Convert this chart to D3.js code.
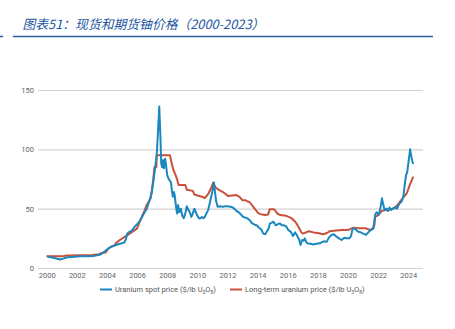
<!DOCTYPE html>
<html>
<head>
<meta charset="utf-8">
<script src="https://cdn.jsdelivr.net/npm/d3@7"></script>
<style>
	body { margin: 0; background: white; }
	svg { display: block; font-family: Roboto, "Noto Sans", sans-serif; }
</style>
</head>
<body>
<svg id="chart" width="455" height="329"></svg>
<script>
// prix spot (hebdo lissé) : [année décimale, $/lb]
let spot = [
	[2000.0, 10], [2000.2, 9.3], [2000.45, 8.6], [2000.7, 7.8], [2000.9, 7.2], [2001.1, 7.9], [2001.3, 8.8],
	[2001.6, 9.2], [2001.9, 9.5], [2002.2, 9.9], [2002.5, 10], [2002.8, 10], [2003.1, 10.2], [2003.4, 10.9],
	[2003.6, 11.6], [2003.9, 14.5], [2004.1, 16.5], [2004.3, 18], [2004.5, 19], [2004.75, 20], [2004.98, 20.8],
	[2005.15, 21.5], [2005.25, 24], [2005.35, 29], [2005.5, 30.5], [2005.65, 31.5], [2005.85, 35], [2006.0, 37],
	[2006.2, 40], [2006.45, 46], [2006.64, 50], [2006.8, 56], [2006.97, 63], [2007.1, 75], [2007.2, 85],
	[2007.3, 95], [2007.38, 113], [2007.47, 136], [2007.55, 110], [2007.6, 88], [2007.66, 85], [2007.72, 91],
	[2007.78, 84], [2007.86, 92], [2007.92, 87], [2008.0, 78], [2008.1, 75], [2008.25, 72], [2008.32, 64],
	[2008.38, 60], [2008.44, 64], [2008.5, 61], [2008.58, 52], [2008.65, 46], [2008.72, 53], [2008.8, 47],
	[2008.9, 50], [2009.0, 44], [2009.1, 42], [2009.2, 46], [2009.3, 52], [2009.4, 49], [2009.5, 47],
	[2009.6, 43], [2009.7, 46], [2009.8, 50], [2009.9, 47], [2010.0, 44], [2010.1, 42], [2010.2, 41.8],
	[2010.3, 43], [2010.4, 42], [2010.5, 43], [2010.6, 46], [2010.72, 49], [2010.85, 56], [2010.95, 62],
	[2011.05, 68.5], [2011.1, 72], [2011.18, 63], [2011.25, 56], [2011.35, 51.6], [2011.5, 52], [2011.7, 51.5],
	[2011.83, 52], [2012.0, 52], [2012.27, 51.5], [2012.45, 50], [2012.6, 48], [2012.7, 47.4], [2012.9, 45],
	[2013.05, 43], [2013.3, 42], [2013.5, 40], [2013.6, 38], [2013.8, 36.5], [2013.93, 36], [2014.1, 34],
	[2014.27, 32], [2014.37, 29], [2014.5, 28.5], [2014.6, 30.6], [2014.72, 33], [2014.82, 37.6], [2014.92, 38],
	[2015.05, 39], [2015.2, 36], [2015.35, 37], [2015.48, 37.6], [2015.6, 36], [2015.75, 36], [2015.9, 35],
	[2016.03, 32], [2016.2, 30.5], [2016.35, 27], [2016.48, 30], [2016.6, 27.8], [2016.75, 24], [2016.85, 19.4],
	[2016.95, 23.6], [2017.05, 23], [2017.13, 25], [2017.22, 22], [2017.3, 20.8], [2017.5, 20.5], [2017.7, 19.8],
	[2017.9, 20.5], [2018.13, 20.8], [2018.3, 22], [2018.45, 22.5], [2018.58, 22], [2018.75, 26], [2018.9, 27.8],
	[2019.05, 28.5], [2019.24, 26.4], [2019.4, 25], [2019.57, 23.6], [2019.75, 25.5], [2019.9, 25], [2020.1, 25],
	[2020.2, 27], [2020.3, 33], [2020.38, 33.4], [2020.5, 32.5], [2020.68, 30.6], [2020.85, 30], [2021.0, 29],
	[2021.2, 28], [2021.35, 30], [2021.5, 32], [2021.67, 33], [2021.75, 40], [2021.8, 45], [2021.9, 47],
	[2022.05, 45], [2022.17, 52], [2022.25, 58.7], [2022.33, 54], [2022.42, 49], [2022.55, 50], [2022.65, 48],
	[2022.75, 51], [2022.85, 49], [2022.95, 50], [2023.1, 51], [2023.25, 50], [2023.4, 54], [2023.55, 56],
	[2023.67, 60], [2023.77, 71], [2023.85, 78], [2023.93, 81], [2024.03, 91], [2024.12, 100], [2024.2, 94],
	[2024.27, 90], [2024.33, 87.6]
];

// prix long terme
let longTerm = [
	[2000.0, 10], [2000.5, 9.8], [2001.0, 9.8], [2001.3, 10.5], [2001.6, 10.6], [2002.0, 10.8], [2002.5, 10.8],
	[2003.0, 11], [2003.5, 11.5], [2003.6, 12.5], [2003.9, 13], [2004.1, 16.5], [2004.3, 18], [2004.5, 19],
	[2004.6, 21], [2004.85, 23.6], [2005.2, 26.4], [2005.5, 29], [2005.75, 31], [2006.0, 33.4], [2006.2, 40],
	[2006.45, 47], [2006.64, 53], [2006.9, 58.7], [2007.07, 74], [2007.15, 85], [2007.28, 85], [2007.3, 95],
	[2008.18, 95], [2008.3, 88], [2008.4, 83], [2008.5, 80], [2008.65, 75], [2008.75, 70], [2008.85, 70],
	[2009.2, 70], [2009.3, 66], [2009.7, 65], [2009.8, 62], [2010.3, 60], [2010.5, 59], [2010.7, 62],
	[2010.9, 67], [2011.05, 72], [2011.2, 68], [2011.4, 66], [2011.7, 64], [2012.05, 60.6], [2012.3, 61],
	[2012.6, 61.5], [2012.8, 60], [2013.0, 57], [2013.2, 57], [2013.5, 55], [2013.8, 50], [2014.05, 46],
	[2014.3, 45], [2014.5, 44.6], [2014.7, 45], [2014.8, 49.5], [2015.1, 49.5], [2015.3, 46], [2015.5, 44.6],
	[2015.9, 44], [2016.25, 42], [2016.5, 39], [2016.7, 35], [2016.9, 30], [2017.0, 29], [2017.4, 31],
	[2017.7, 30], [2018.0, 29.5], [2018.35, 28.4], [2018.6, 29.5], [2018.8, 31], [2019.2, 31.5], [2019.6, 32],
	[2019.9, 32], [2020.1, 32.5], [2020.35, 34], [2020.7, 33.5], [2021.0, 33.4], [2021.2, 33.4], [2021.45, 32],
	[2021.67, 33.7], [2021.75, 36], [2021.8, 43], [2022.0, 44.6], [2022.1, 46], [2022.23, 48], [2022.56, 49],
	[2022.8, 49.5], [2023.0, 50], [2023.2, 52], [2023.45, 56], [2023.7, 60], [2023.9, 63], [2024.1, 70],
	[2024.33, 77]
];

let yTicks = [0, 50, 100, 150];
let xTicks = d3.range(2000, 2025, 2);
let title = "图表51：现货和期货铀价格（2000-2023）";
let series = [
	{name: "Uranium spot price ($/lb U", data: spot, color: "#1b87bf"},
	{name: "Long-term uranium price ($/lb U", data: longTerm, color: "#c9503a"}
];

let svg = d3.select("#chart");

// en-tête
svg.append("text")
	.attr("x", 22.5)
	.attr("y", 28.5)
	.attr("fill", "#24559f")
	.attr("font-family", "'Noto Sans CJK SC', sans-serif")
	.attr("font-style", "italic")
	.attr("font-size", 12.8)
	.text(title);
svg.append("line")
	.attr("x1", 13).attr("x2", 433)
	.attr("y1", 36.5).attr("y2", 36.5)
	.attr("stroke", "#2f5da6")
	.attr("stroke-width", 1.6);
svg.append("line")
	.attr("x1", 0).attr("x2", 3)
	.attr("y1", 36.5).attr("y2", 36.5)
	.attr("stroke", "#2f5da6")
	.attr("stroke-width", 1.6);

let x = d3.scaleLinear([2000, 2024], [46.7, 408.3]);
let y = d3.scaleLinear([0, 150], [268, 90]);
let gridLeft = 38, gridRight = 423;

// grille + axe y
svg.append("g")
	.attr("transform", `translate(${gridLeft},0)`)
	.call(d3.axisLeft(y).tickValues(yTicks).tickSize(-(gridRight - gridLeft)).tickPadding(4))
	.call(g => g.select(".domain").remove())
	.call(g => g.selectAll(".tick line").attr("stroke", "#d2d2d2").attr("stroke-width", 1.2))
	.call(g => g.selectAll("text").attr("fill", "#666").attr("font-size", 7.5).attr("font-family", "Roboto"));

// axe x
svg.append("g")
	.attr("transform", "translate(0,268)")
	.call(d3.axisBottom(x).tickValues(xTicks).tickFormat(d3.format("d")).tickSize(0).tickPadding(5))
	.call(g => g.select(".domain").remove())
	.call(g => g.selectAll("text").attr("fill", "#666").attr("font-size", 7.5).attr("font-family", "Roboto"));

let line = d3.line()
	.x(d => x(d[0]))
	.y(d => y(d[1]));

svg.append("g")
	.attr("fill", "none")
	.attr("stroke-width", 2)
	.attr("stroke-linejoin", "round")
	.selectAll("path")
	.data(series.slice().reverse())
	.join("path")
	.attr("stroke", d => d.color)
	.attr("d", d => line(d.data));

// légende
let legend = svg.append("g")
	.attr("font-size", 7.5)
	.attr("fill", "#555")
	.attr("font-family", "Roboto")
	.selectAll("g")
	.data(series)
	.join("g")
	.attr("transform", (d, i) => `translate(${[100, 230][i]},289.5)`);
legend.append("line")
	.attr("x2", 12)
	.attr("stroke", d => d.color)
	.attr("stroke-width", 2);
legend.append("text")
	.attr("x", 15)
	.attr("dy", "0.35em")
	.call(t => t.append("tspan").text(d => d.name))
	.call(t => t.append("tspan").attr("font-size", 5).attr("dy", 1.5).text("3"))
	.call(t => t.append("tspan").attr("dy", -1.5).text("O"))
	.call(t => t.append("tspan").attr("font-size", 5).attr("dy", 1.5).text("8"))
	.call(t => t.append("tspan").attr("dy", -1.5).text(")"));
</script>
</body>
</html>
